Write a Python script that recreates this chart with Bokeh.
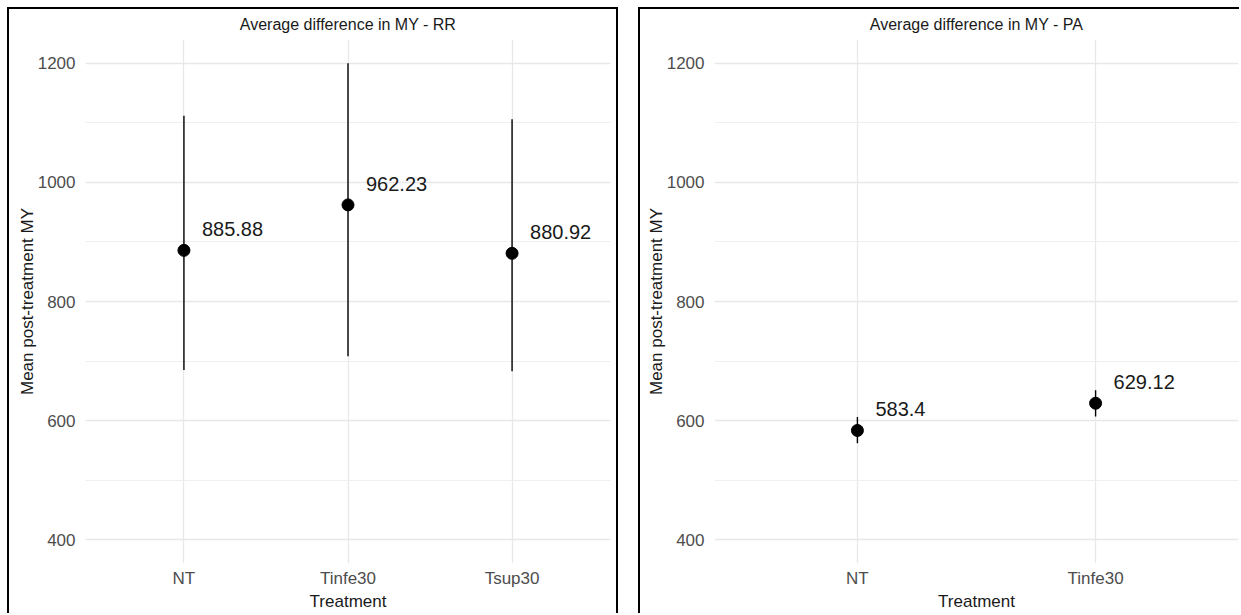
from bokeh.plotting import figure
from bokeh.models import FactorRange, Range1d, FixedTicker
from bokeh.layouts import row
from bokeh.embed import file_html
from bokeh.resources import INLINE
from bokeh.core.properties import value

# ---- data ----
rr_treatments = ["NT", "Tinfe30", "Tsup30"]
rr_mean = [885.88, 962.23, 880.92]
rr_lower = [685, 708, 683]
rr_upper = [1112, 1200, 1106]
rr_labels = ["885.88", "962.23", "880.92"]

pa_treatments = ["NT", "Tinfe30"]
pa_mean = [583.4, 629.12]
pa_lower = [562, 607]
pa_upper = [606, 651]
pa_labels = ["583.4", "629.12"]

y_ticks = [400, 600, 800, 1000, 1200]
y_minor = [500, 700, 900, 1100]

FONT = "Liberation Sans"
HEIGHT = 606


def make_panel(title, cats, mean, lower, upper, labels, width, min_left, min_right, border_css):
    n = len(cats)
    p = figure(
        x_range=FactorRange(*cats, range_padding=0.2 / n),
        y_range=Range1d(360, 1240),
        width=width, height=HEIGHT,
        output_backend="svg", toolbar_location=None,
        min_border_left=min_left, min_border_right=min_right,
        min_border_top=30, min_border_bottom=52,
        title=title,
    )
    p.styles = border_css
    p.background_fill_color = "white"
    p.border_fill_color = "white"
    p.outline_line_color = None

    p.title.align = "center"
    p.title.vertical_align = "top"
    p.title.text_font = FONT
    p.title.text_font_size = "16px"
    p.title.text_font_style = "normal"
    p.title.text_color = "#1a1a1a"
    p.title.standoff = 10

    ticker = FixedTicker(ticks=y_ticks, minor_ticks=y_minor)
    p.yaxis.ticker = ticker
    p.ygrid.ticker = ticker
    p.ygrid.grid_line_color = "#e8e8e8"
    p.ygrid.grid_line_width = 1.3
    p.ygrid.minor_grid_line_color = "#efefef"
    p.ygrid.minor_grid_line_width = 1.0
    p.xgrid.grid_line_color = "#e8e8e8"
    p.xgrid.grid_line_width = 1.3

    for ax in (p.xaxis, p.yaxis):
        ax.axis_line_color = None
        ax.major_tick_line_color = None
        ax.minor_tick_line_color = None
        ax.major_label_text_font = FONT
        ax.major_label_text_font_size = "17px"
        ax.major_label_text_color = "#4d4d4d"
        ax.axis_label_text_font = FONT
        ax.axis_label_text_font_size = "17px"
        ax.axis_label_text_font_style = "normal"
        ax.axis_label_text_color = "#1a1a1a"

    p.xaxis.axis_label = "Treatment"
    p.yaxis.axis_label = "Mean post-treatment MY"
    p.xaxis.major_label_standoff = -1
    p.xaxis.axis_label_standoff = 1
    p.yaxis.major_label_standoff = 4
    p.yaxis.axis_label_standoff = -2

    p.segment(x0=cats, y0=lower, x1=cats, y1=upper, line_color="black", line_width=1.4)
    p.scatter(x=cats, y=mean, size=12, fill_color="black", line_color="black")
    p.text(x=cats, y=mean, text=labels, x_offset=18, y_offset=-21,
           text_align="left", text_baseline="middle",
           text_font=value(FONT), text_font_size="20px", text_color="#1a1a1a")
    return p


left = make_panel("Average difference in MY - RR", rr_treatments, rr_mean,
                  rr_lower, rr_upper, rr_labels, 611, 76, 10,
                  {"border-left": "2px solid black", "border-top": "2px solid black",
                   "border-right": "2px solid black"})
right = make_panel("Average difference in MY - PA", pa_treatments, pa_mean,
                   pa_lower, pa_upper, pa_labels, 601, 74, 3,
                   {"border-left": "2px solid black", "border-top": "2px solid black"})

layout = row(left, right, spacing=20, margin=(7, 0, 0, 7))

open("out.html", "w").write(file_html(layout, INLINE))
